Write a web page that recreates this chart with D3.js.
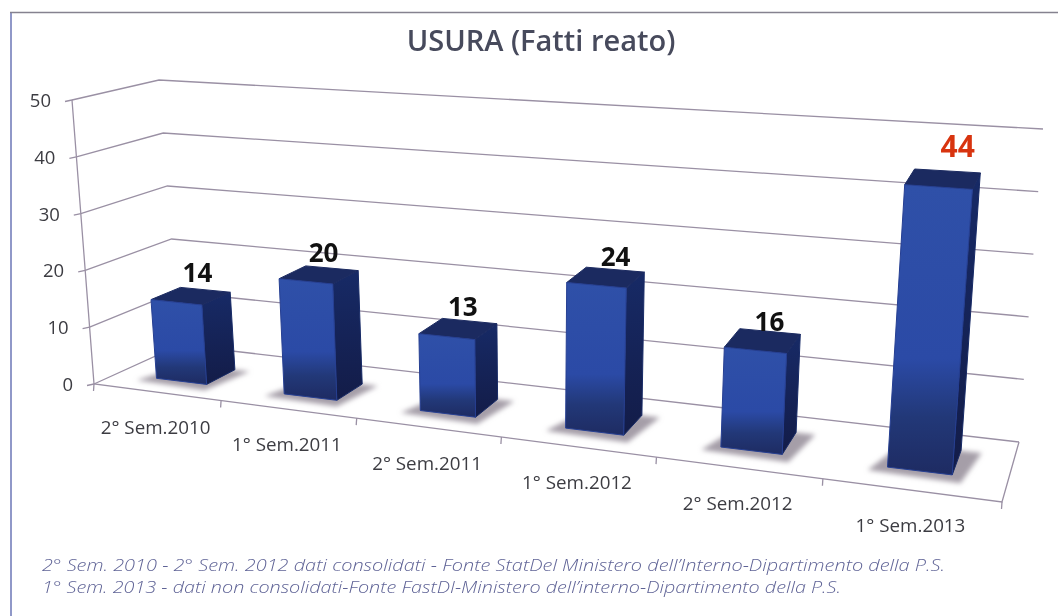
<!DOCTYPE html>
<html><head><meta charset="utf-8">
<script src="https://cdn.jsdelivr.net/npm/d3@7"></script>
<style>html,body{margin:0;padding:0;background:#fff}svg{display:block;filter:blur(0.45px)}</style>
</head><body><div id="c"></div>
<script>
const categories=["2° Sem.2010","1° Sem.2011","2° Sem.2011","1° Sem.2012","2° Sem.2012","1° Sem.2013"];
const values=[14,20,13,24,16,44];
const valueTicks=[0,10,20,30,40,50];
const labelColors=["#111","#111","#111","#111","#111","#d8340f"];
const footnotes=["2° Sem. 2010 - 2° Sem. 2012 dati consolidati - Fonte StatDel Ministero dell’Interno-Dipartimento della P.S.","1° Sem. 2013 - dati non consolidati-Fonte FastDI-Ministero dell’interno-Dipartimento della P.S."];
const footnoteWidths=[903,799];
const labelNudgeX=[7,5,5,10,7,15];
const labelNudgeY=[-14,-13,-13,-12,-10,-22];
const W=1058,H=616;
const svg=d3.select("#c").append("svg").attr("width",W).attr("height",H);
const defs=svg.append("defs");
defs.append("filter").attr("id","blur").attr("x","-30%").attr("y","-50%").attr("width","160%").attr("height","200%").append("feGaussianBlur").attr("stdDeviation",2.5);
const g1=defs.append("linearGradient").attr("id","front").attr("x1",0).attr("x2",0).attr("y1",0).attr("y2",1);
[[0,"#2f50a8"],[.6,"#2b4aa6"],[.8,"#223878"],[1,"#1e2b62"]].forEach(s=>g1.append("stop").attr("offset",s[0]).attr("stop-color",s[1]));
const g2=defs.append("linearGradient").attr("id","side").attr("x1",0).attr("x2",0).attr("y1",0).attr("y2",1);
[[0,"#172a66"],[1,"#131c48"]].forEach(s=>g2.append("stop").attr("offset",s[0]).attr("stop-color",s[1]));
// projected box: corners of the floor (height 0) and ceiling (height 50)
const floor={fl:[94,384],fr:[1002,502],bl:[180,345],br:[1019,442]};
const ceil={fl:[72,100],fr:[1029,167],bl:[159,80],br:[1043,129]};
const persp=-0.186;
const uScale=d3.scaleLinear().domain([0,categories.length]).range([0,1]);
const warp=u=>(1+persp)*u/(1+persp*u);
const hScale=d3.scaleLinear().domain([0,50]).range([0,1]);
const lerp=(a,b,t)=>a+(b-a)*t;
const lp=(a,b,t)=>[lerp(a[0],b[0],t),lerp(a[1],b[1],t)];
const quad=(q,u,v)=>lp(lp(q.fl,q.fr,u),lp(q.bl,q.br,u),v);
function P(i,v,h){const u=warp(uScale(i));return lp(quad(floor,u,v),quad(ceil,u,v),hScale(h));}
const path=pts=>"M"+pts.map(p=>p[0].toFixed(1)+","+p[1].toFixed(1)).join("L")+"Z";
const open=pts=>"M"+pts.map(p=>p[0].toFixed(1)+","+p[1].toFixed(1)).join("L");
// frame
svg.append("path").attr("d","M11,616V12").attr("fill","none").attr("stroke","#9098c8").attr("stroke-width",2);
svg.append("path").attr("d","M10,12.5H1058").attr("fill","none").attr("stroke","#85828f").attr("stroke-width",1.4);
// title
svg.append("text").attr("x",541).attr("y",51).attr("text-anchor","middle").attr("font-family","'Open Sans'").attr("font-weight",600).attr("font-size",29).attr("fill","#474a5c").text("USURA (Fatti reato)");
// walls
const line="#9a90a4";
const n=categories.length;
const axes=svg.append("g").attr("fill","none").attr("stroke",line).attr("stroke-width",1.3);
valueTicks.forEach(t=>{
  axes.append("path").attr("d",open([P(0,0,t),P(0,1,t),P(n,1,t)]));
  const a=P(0,0,t);
  axes.append("path").attr("d",open([[a[0]-7,a[1]+1.5],a]));
});
axes.append("path").attr("d",open([P(0,0,50),P(0,0,0),P(n,0,0),P(n,1,0)]));
d3.range(0,n+1).forEach(i=>{const a=P(i,0,0);axes.append("path").attr("d",open([a,[a[0]-.5,a[1]+7]]));});
// value tick labels
svg.append("g").selectAll("text").data(valueTicks).join("text")
 .attr("x",t=>P(0,0,t)[0]-21).attr("y",t=>P(0,0,t)[1]+7).attr("text-anchor","end")
 .attr("font-family","'Open Sans'").attr("font-size",18.5).attr("fill","#3c3c42").text(t=>t);
// category labels
svg.append("g").selectAll("text").data(categories).join("text")
 .attr("x",(d,i)=>(P(i,0,0)[0]+P(i+1,0,0)[0])/2-2).attr("y",(d,i)=>(P(i,0,0)[1]+P(i+1,0,0)[1])/2+42)
 .attr("text-anchor","middle").attr("font-family","'Open Sans'").attr("font-size",18.8).attr("fill","#3c3c42").text(d=>d);
// bars
const v0=u=>lerp(.27,.34,u),v1=u=>lerp(.62,.76,u);
const bars=svg.append("g");
values.forEach((val,i)=>{
  const a=i+.32,b=i+.72-.006*i;
  const va=v0(warp(uScale(a))),vb=v0(warp(uScale(b))),wa=v1(warp(uScale(a))),wb=v1(warp(uScale(b)));
  const g=bars.append("g").attr("stroke-linejoin","round");
  g.append("path").attr("d",path([P(a-.1,va-.09,0),P(b+.06,vb-.12,0),P(b+.12,wb,0),P(a+.02,wa,0)])).attr("fill","#a59ea8").attr("filter","url(#blur)");
  g.append("path").attr("d",path([P(b,vb,0),P(b,wb,0),P(b,wb,val),P(b,vb,val)])).attr("fill","url(#side)").attr("stroke","#172a66").attr("stroke-width",1);
  g.append("path").attr("d",path([P(a,va,val),P(b,vb,val),P(b,wb,val),P(a,wa,val)])).attr("fill","#1b2a60").attr("stroke","#1b2a60").attr("stroke-width",1);
  g.append("path").attr("d",path([P(a,va,0),P(b,vb,0),P(b,vb,val),P(a,va,val)])).attr("fill","url(#front)").attr("stroke","#263f92").attr("stroke-width",1);
  const top=P((a+b)/2,(va+wa)/2,val);
  g.append("text").attr("x",top[0]+labelNudgeX[i]).attr("y",top[1]+labelNudgeY[i]).attr("text-anchor","middle")
   .attr("font-family","'Open Sans'").attr("font-weight",700).attr("font-size",i==5?30:26).attr("fill",labelColors[i]).text(val);
});
// footnotes
svg.append("g").selectAll("text").data(footnotes).join("text")
 .attr("x",42).attr("y",(d,i)=>570.5+i*22).attr("font-family","'Open Sans'").attr("font-style","italic").attr("font-weight",300)
 .attr("font-size",16).attr("textLength",(d,i)=>footnoteWidths[i]).attr("lengthAdjust","spacingAndGlyphs").attr("fill","#5f6396").text(d=>d);
</script></body></html>
